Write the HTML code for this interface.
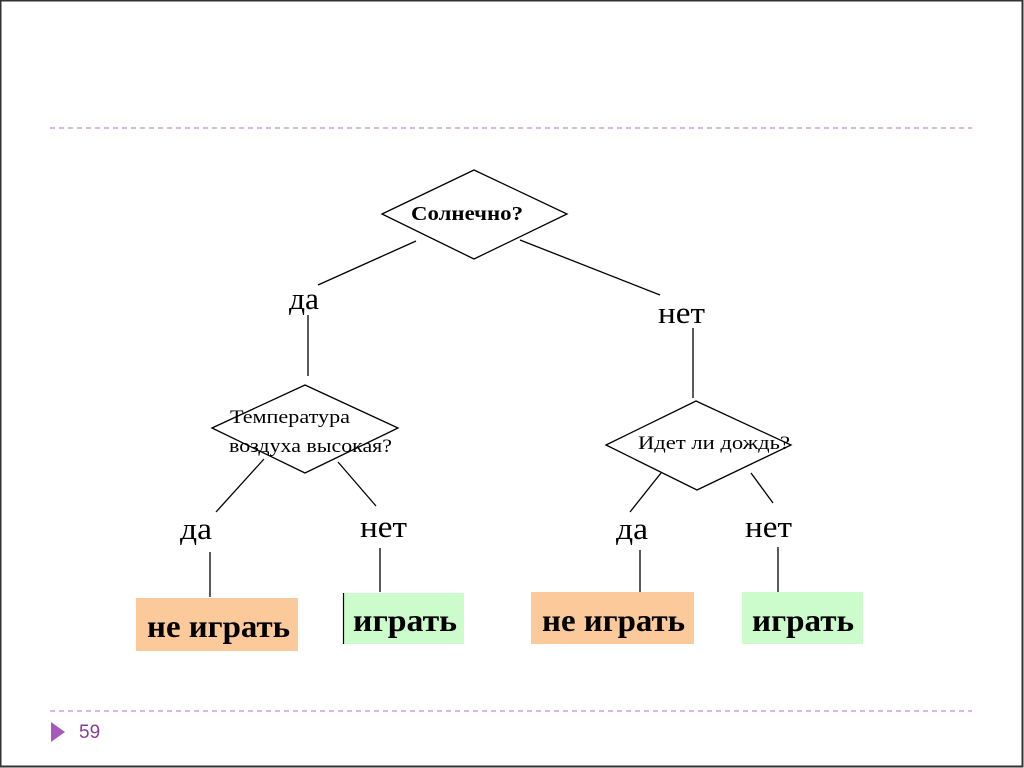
<!DOCTYPE html>
<html><head><meta charset="utf-8"><style>
html,body{margin:0;padding:0;background:#fff;width:1024px;height:768px;overflow:hidden}
svg{display:block}
text{font-family:"Liberation Serif","DejaVu Serif",serif;fill:#000}
</style></head><body>
<svg width="1024" height="768" viewBox="0 0 1024 768">
<rect x="0.5" y="0.5" width="1022" height="766" fill="#fff" stroke="#333" stroke-width="2"/>
<line x1="50" y1="128" x2="972" y2="128" stroke="#c58ccf" stroke-width="1.3" stroke-dasharray="5,4"/>
<line x1="50" y1="711" x2="972" y2="711" stroke="#c58ccf" stroke-width="1.3" stroke-dasharray="5,4"/>
<polygon points="51,722 65,732 51,742" fill="#a65ab8"/>
<text x="79" y="738" style="font-family:'Liberation Sans',sans-serif;font-size:19px;fill:#8a3c9a">59</text>
<g stroke="#000" stroke-width="1.3" fill="none">
<polygon points="382,214 474,170 567,214 474,259"/>
<line x1="416" y1="241" x2="318" y2="285"/>
<line x1="520" y1="240" x2="660" y2="295"/>
<line x1="308" y1="315" x2="308" y2="376"/>
<line x1="693" y1="328" x2="693" y2="398"/>
<polygon points="212,428 305,385 398,428 305,473"/>
<line x1="264" y1="459" x2="216" y2="512"/>
<line x1="338" y1="462" x2="376" y2="506"/>
<line x1="210" y1="552" x2="210" y2="597"/>
<line x1="380" y1="548" x2="380" y2="592"/>
<polygon points="606,445 696,401 791,445 697,490"/>
<line x1="661" y1="473" x2="630" y2="512"/>
<line x1="751" y1="473" x2="773" y2="503"/>
<line x1="640" y1="550" x2="640" y2="592"/>
<line x1="778" y1="547" x2="778" y2="592"/>
</g>
<rect x="136" y="598" width="162" height="53" fill="#fbc99a"/>
<rect x="343" y="593" width="121" height="51" fill="#ccfbcc"/>
<line x1="343.5" y1="593" x2="343.5" y2="644" stroke="#000" stroke-width="1.2"/>
<rect x="531" y="592" width="163" height="52" fill="#fbc99a"/>
<rect x="742" y="592" width="121" height="52" fill="#ccfbcc"/>
<text x="411" y="220" font-size="20" font-weight="bold" textLength="112" lengthAdjust="spacingAndGlyphs">Солнечно?</text>
<text x="289" y="309" font-size="31" textLength="30" lengthAdjust="spacingAndGlyphs">да</text>
<text x="658" y="323" font-size="31" textLength="47" lengthAdjust="spacingAndGlyphs">нет</text>
<text x="230" y="423" font-size="19" textLength="120" lengthAdjust="spacingAndGlyphs">Температура</text>
<text x="229" y="452" font-size="19" textLength="163" lengthAdjust="spacingAndGlyphs">воздуха высокая?</text>
<text x="638" y="449" font-size="19" textLength="152" lengthAdjust="spacingAndGlyphs">Идет ли дождь?</text>
<text x="180" y="539" font-size="31" textLength="32" lengthAdjust="spacingAndGlyphs">да</text>
<text x="360" y="537" font-size="31" textLength="47" lengthAdjust="spacingAndGlyphs">нет</text>
<text x="616" y="539" font-size="31" textLength="32" lengthAdjust="spacingAndGlyphs">да</text>
<text x="745" y="537" font-size="31" textLength="47" lengthAdjust="spacingAndGlyphs">нет</text>
<text x="147" y="637" font-size="32" font-weight="bold" textLength="143" lengthAdjust="spacingAndGlyphs">не играть</text>
<text x="353" y="631" font-size="32" font-weight="bold" textLength="104" lengthAdjust="spacingAndGlyphs">играть</text>
<text x="542" y="631" font-size="32" font-weight="bold" textLength="143" lengthAdjust="spacingAndGlyphs">не играть</text>
<text x="752" y="631" font-size="32" font-weight="bold" textLength="102" lengthAdjust="spacingAndGlyphs">играть</text>
</svg>
</body></html>
